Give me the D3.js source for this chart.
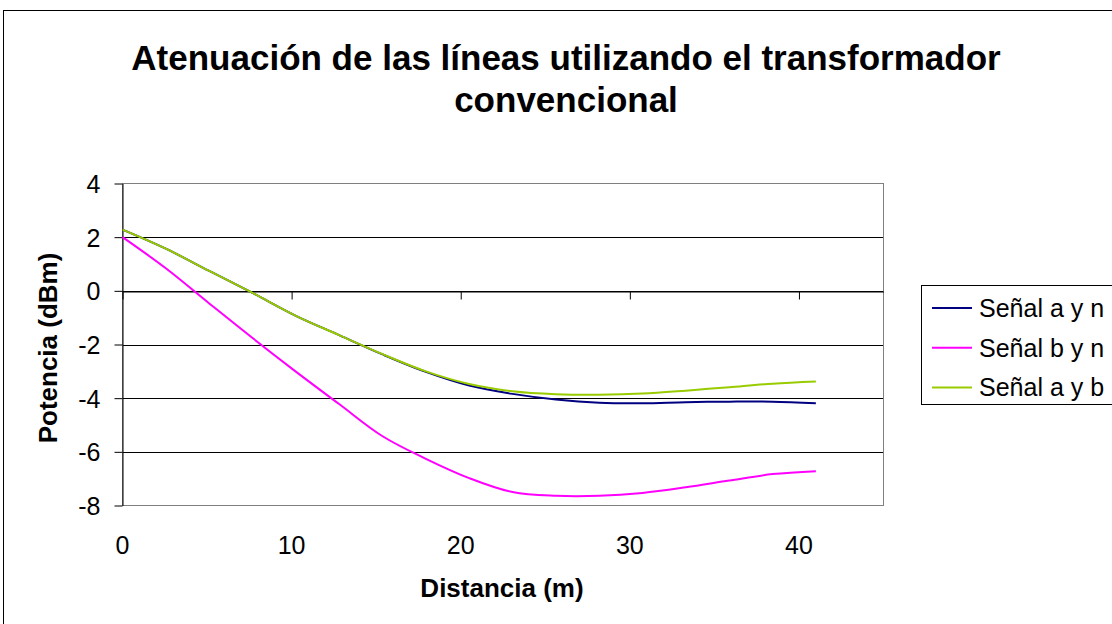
<!DOCTYPE html>
<html><head><meta charset="utf-8">
<script src="https://cdn.jsdelivr.net/npm/d3@7"></script>
<style>body{margin:0;background:#fff;}svg{display:block;font-family:"Liberation Sans",Arial,sans-serif;}</style>
</head><body>
<svg id="c" width="1112" height="624"></svg>
<script>
const distance = [0, 2.56, 5.13, 7.69, 10.25, 12.81, 15.38, 17.94, 20.5, 23.06, 25.63, 28.19, 30.75, 33.31, 35.88, 38.44, 41];
const senalAN = [2.28, 1.57, 0.74, -0.08, -0.93, -1.65, -2.37, -3.02, -3.53, -3.84, -4.05, -4.17, -4.19, -4.15, -4.13, -4.13, -4.19];
const senalBN = [2.0, 0.84, -0.47, -1.76, -3.01, -4.22, -5.42, -6.26, -6.98, -7.5, -7.64, -7.64, -7.53, -7.32, -7.07, -6.83, -6.72];
const senalAB = [2.28, 1.57, 0.74, -0.08, -0.93, -1.65, -2.36, -3.0, -3.47, -3.74, -3.85, -3.87, -3.83, -3.72, -3.59, -3.46, -3.38];
const seriesNames = ["Señal a y n", "Señal b y n", "Señal a y b"];
const seriesColors = ["#000080", "#FF00FF", "#99CC00"];
const xTicks = [0, 10, 20, 30, 40];
const yTicks = [-8, -6, -4, -2, 0, 2, 4];
const titleLines = ["Atenuación de las líneas utilizando el transformador", "convencional"];

const svg = d3.select("#c");
const L = 122.5, R = 883.5, T = 183.5, B = 505.5;
const x = d3.scaleLinear().domain([0, 45]).range([L, R]);
const y = d3.scaleLinear().domain([-8, 4]).range([B, T]);

// outer chart border
svg.append("rect").attr("x", 3.5).attr("y", 10.5).attr("width", 1200).attr("height", 700)
  .attr("fill", "none").attr("stroke", "#000").attr("stroke-width", 1);

// title
svg.append("text").attr("text-anchor", "middle")
  .attr("font-weight", "bold").attr("font-size", 35)
  .selectAll("tspan").data(titleLines).join("tspan")
  .attr("x", 566).attr("y", (d, i) => 70 + i * 42).text(d => d);

// gridlines
svg.append("g").selectAll("line").data(yTicks.filter(v => v > -8 && v < 4)).join("line")
  .attr("x1", L).attr("x2", R).attr("y1", d => Math.round(y(d)) + 0.5).attr("y2", d => Math.round(y(d)) + 0.5)
  .attr("stroke", "#000").attr("stroke-width", 1);

// plot border
svg.append("rect").attr("x", L).attr("y", T).attr("width", R - L).attr("height", B - T)
  .attr("fill", "none").attr("stroke", "#808080").attr("stroke-width", 1);

// y axis
const yAxis = d3.axisLeft(y).tickValues(yTicks).tickSize(8).tickSizeOuter(0).tickPadding(14).tickFormat(d => String(d));
const gy = svg.append("g").attr("transform", `translate(${L},0)`).call(yAxis);
gy.select(".domain").attr("stroke", "#000");
gy.selectAll(".tick line").attr("stroke", "#000");
gy.selectAll("text").attr("font-size", 25).attr("font-family", "Liberation Sans, Arial, sans-serif").attr("fill", "#000")
  .attr("dy", "0.36em");

// x axis at y=0 with ticks downward
const xAxis = d3.axisBottom(x).tickValues(xTicks).tickSize(8).tickSizeOuter(0).tickFormat("");
const gx = svg.append("g").attr("transform", `translate(0,${Math.round(y(0)) + 0.5})`).call(xAxis);
gx.select(".domain").attr("stroke", "#000");
gx.selectAll(".tick line").attr("stroke", "#000");
// x tick labels at bottom
svg.append("g").selectAll("text").data(xTicks).join("text")
  .attr("x", d => x(d)).attr("y", 554).attr("text-anchor", "middle")
  .attr("font-size", 25).text(d => String(d));

// axis titles
svg.append("text").attr("x", 502).attr("y", 597).attr("text-anchor", "middle")
  .attr("font-weight", "bold").attr("font-size", 26).text("Distancia (m)");
svg.append("text").attr("transform", "translate(57,348) rotate(-90)").attr("text-anchor", "middle")
  .attr("font-weight", "bold").attr("font-size", 26).text("Potencia (dBm)");

// lines
const allSeries = [senalAN, senalBN, senalAB];
const line = d3.line().x((d, i) => x(distance[i])).y(d => y(d)).curve(d3.curveCatmullRom.alpha(0.5));
svg.append("g").selectAll("path").data(allSeries).join("path")
  .attr("d", d => line(d)).attr("fill", "none")
  .attr("stroke", (d, i) => seriesColors[i]).attr("stroke-width", 2);

// legend
const lg = svg.append("g");
lg.append("rect").attr("x", 921.5).attr("y", 285.5).attr("width", 300).attr("height", 119)
  .attr("fill", "#fff").attr("stroke", "#000").attr("stroke-width", 1);
seriesNames.forEach((n, i) => {
  const cy = 308 + i * 39.7;
  lg.append("line").attr("x1", 932).attr("x2", 972).attr("y1", cy).attr("y2", cy)
    .attr("stroke", seriesColors[i]).attr("stroke-width", 2);
  lg.append("text").attr("x", 979).attr("y", cy).attr("dy", "0.36em").attr("font-size", 25).text(n);
});
</script>
</body></html>
